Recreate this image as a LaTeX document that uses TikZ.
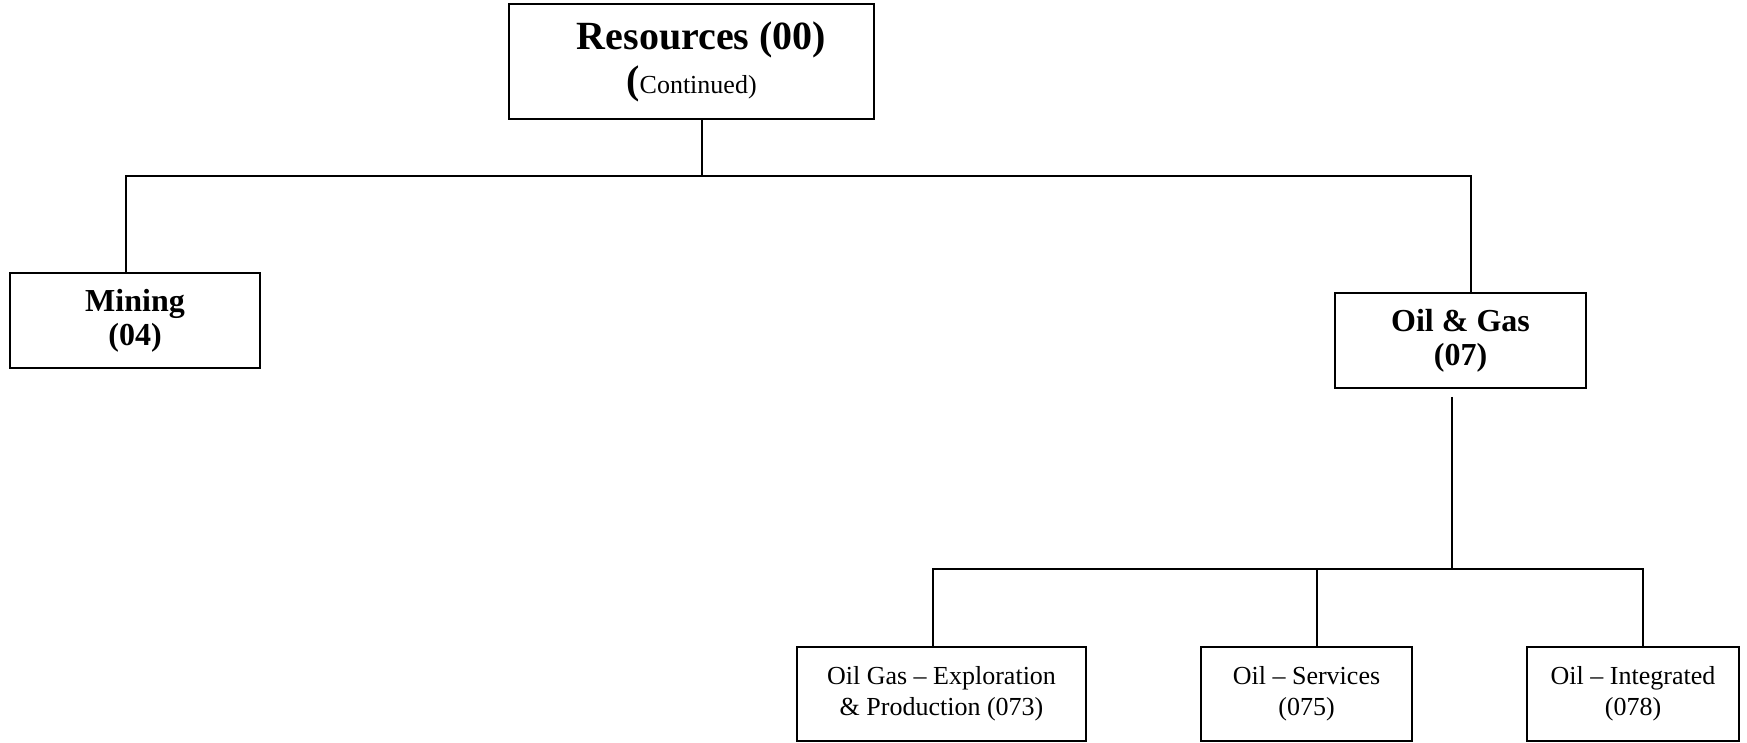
\documentclass[tikz,border=0pt]{standalone}
\usepackage{fontspec}
\setmainfont{Liberation Serif}
\begin{document}
\begin{tikzpicture}[x=0.5pt,y=-0.5pt,line width=1pt,
		box/.style={draw,align=center,inner sep=0pt},
		headbox/.style={box,minimum height=47.5pt,font=\fontsize{16}{17}\selectfont\bfseries},
		leafbox/.style={box,minimum height=47pt,font=\fontsize{13}{15.5}\selectfont}]
		\useasboundingbox (0,0) rectangle (1747,743);
		\node[box,minimum width=182.5pt,minimum height=57.5pt,font=\fontsize{20}{22}\selectfont] (res) at (691.5,61.5)
			{\hspace*{10pt}\textbf{Resources (00)}\\\textbf{(}{\fontsize{13}{22}\selectfont Continued)}};
		\node[headbox,minimum width=125pt] (mine) at (135,321) {Mining\\(04)};
		\node[headbox,minimum width=125.5pt] (oil) at (1460.5,340.5) {Oil \& Gas\\(07)};
		\foreach \name/\x/\w/\txt in {expl/941.5/144.5/{Oil Gas -- Exploration\\\& Production (073)},
				serv/1306.5/105.5/{Oil -- Services\\(075)},
				integ/1633/106/{Oil -- Integrated\\(078)}}
			{
			\node[leafbox,minimum width=\w pt] (\name) at (\x,694) {\txt};
			}
		\coordinate (bus1) at (0,176);
		\coordinate (bus2) at (0,569);
		\draw ([xshift=5pt]res.south) -- ([xshift=5pt]res.south |- bus1);
		\draw ([xshift=-4.5pt]mine.north) |- ([xshift=5pt]oil.north |- bus1) -- ([xshift=5pt]oil.north);
		\draw ([xshift=-4.5pt,yshift=-4pt]oil.south) -- ([xshift=-4.5pt]oil.south |- bus2);
		\draw ([xshift=-4.5pt]expl.north) |- ([xshift=5pt]integ.north |- bus2) -- ([xshift=5pt]integ.north);
		\draw ([xshift=5pt]serv.north) -- ([xshift=5pt]serv.north |- bus2);
	\end{tikzpicture}
\end{document}
